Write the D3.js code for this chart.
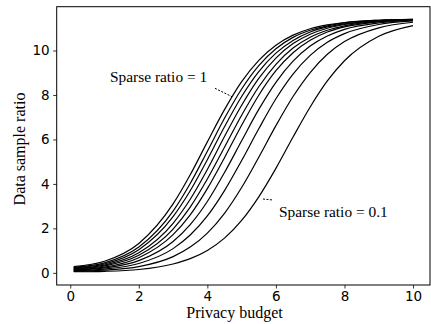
<!DOCTYPE html>
<html>
<head>
<meta charset="utf-8">
<script src="https://cdn.jsdelivr.net/npm/d3@7"></script>
<style>
  body { margin: 0; background: #fff; }
  svg { display: block; }
  .tick text { font-family: "DejaVu Sans", sans-serif; font-size: 13.5px; fill: #000; }
  .label { font-family: "Liberation Serif", "Times New Roman", serif; fill: #000; }
</style>
</head>
<body>
<svg id="chart"></svg>
<script>
// privacy budget values where the curves were read
const budget = [0.1, 1, 2, 3, 3.5, 4, 4.5, 5, 5.5, 6, 6.5, 7, 7.5, 8, 9, 10]

// data sample ratio, one array per sparse ratio
const ratio10 = [0.28, 0.52, 1.32, 3.10, 4.41, 5.89, 7.34, 8.60, 9.56, 10.24, 10.69, 10.98, 11.15, 11.26, 11.36, 11.40]
const ratio09 = [0.25, 0.45, 1.16, 2.78, 4.02, 5.47, 6.95, 8.27, 9.32, 10.08, 10.59, 10.91, 11.11, 11.24, 11.36, 11.40]
const ratio08 = [0.22, 0.40, 1.04, 2.53, 3.69, 5.09, 6.57, 7.93, 9.05, 9.88, 10.45, 10.83, 11.06, 11.20, 11.34, 11.39]
const ratio07 = [0.19, 0.35, 0.90, 2.23, 3.31, 4.65, 6.13, 7.54, 8.75, 9.66, 10.31, 10.73, 11.00, 11.17, 11.33, 11.39]
const ratio06 = [0.17, 0.31, 0.79, 1.97, 2.96, 4.22, 5.65, 7.09, 8.37, 9.38, 10.11, 10.60, 10.91, 11.11, 11.31, 11.38]
const ratio05 = [0.15, 0.26, 0.68, 1.72, 2.61, 3.79, 5.18, 6.64, 7.99, 9.09, 9.90, 10.46, 10.83, 11.06, 11.29, 11.37]
const ratio04 = [0.12, 0.22, 0.55, 1.41, 2.17, 3.21, 4.51, 5.94, 7.35, 8.57, 9.52, 10.20, 10.65, 10.95, 11.24, 11.36]
const ratio03 = [0.10, 0.17, 0.42, 1.09, 1.70, 2.56, 3.70, 5.05, 6.48, 7.83, 8.94, 9.78, 10.37, 10.76, 11.17, 11.33]
const ratio02 = [0.07, 0.12, 0.28, 0.73, 1.16, 1.79, 2.68, 3.84, 5.20, 6.62, 7.93, 9.01, 9.83, 10.40, 11.02, 11.27]
const ratio01 = [0.05, 0.07, 0.15, 0.40, 0.64, 1.01, 1.56, 2.36, 3.42, 4.70, 6.11, 7.46, 8.63, 9.54, 10.64, 11.12]

const allRatios = [ratio10, ratio09, ratio08, ratio07, ratio06, ratio05, ratio04, ratio03, ratio02, ratio01]

const xTicks = [0, 2, 4, 6, 8, 10]
const yTicks = [0, 2, 4, 6, 8, 10]

//set up svg container
const width = 431
const height = 324
const margin = {left: 56.7, right: 430, top: 6.7, bottom: 285}

const svg = d3.select('#chart')
              .attr('width', width)
              .attr('height', height)

//setting the scale (matplotlib style 5% margins)
const xScale = d3.scaleLinear()
                 .domain([-0.395, 10.495])
                 .range([margin.left, margin.right])

const yScale = d3.scaleLinear()
                 .domain([-0.546, 11.97])
                 .range([margin.bottom, margin.top])

//the curves
const line = d3.line()
               .x((d, i) => xScale(budget[i]))
               .y(d => yScale(d))
               .curve(d3.curveMonotoneX)

svg.selectAll('.curve')
   .data(allRatios)
   .join('path')
   .attr('class', 'curve')
   .attr('d', line)
   .attr('fill', 'none')
   .attr('stroke', '#000')
   .attr('stroke-width', 1.2)

//setting the axes
const xAxis = d3.axisBottom(xScale)
                .tickValues(xTicks)
                .tickSizeOuter(0)
                .tickSize(3.5)
                .tickPadding(3)

const yAxis = d3.axisLeft(yScale)
                .tickValues(yTicks)
                .tickSizeOuter(0)
                .tickSize(3.5)
                .tickPadding(3.5)

const gx = svg.append('g').attr('transform', `translate(0, ${margin.bottom})`).call(xAxis)
const gy = svg.append('g').attr('transform', `translate(${margin.left}, 0)`).call(yAxis)
gx.select('.domain').remove()
gy.select('.domain').remove()
svg.selectAll('.tick line').attr('stroke', '#000').attr('stroke-width', 0.8)

//frame
svg.append('rect')
   .attr('x', margin.left).attr('y', margin.top)
   .attr('width', margin.right - margin.left).attr('height', margin.bottom - margin.top)
   .attr('fill', 'none')
   .attr('stroke', '#000')
   .attr('stroke-width', 1)

//axis labels
svg.append('text')
   .attr('class', 'label')
   .attr('x', 234.5).attr('y', 318)
   .attr('text-anchor', 'middle')
   .style('font-size', '16px')
   .text('Privacy budget')

svg.append('text')
   .attr('class', 'label')
   .attr('transform', 'translate(25, 149) rotate(-90)')
   .attr('text-anchor', 'middle')
   .style('font-size', '16px')
   .text('Data sample ratio')

//annotations
svg.append('text')
   .attr('class', 'label')
   .attr('x', 110).attr('y', 81.7)
   .style('font-size', '15.4px')
   .text('Sparse ratio = 1')

svg.append('text')
   .attr('class', 'label')
   .attr('x', 279).attr('y', 216.7)
   .style('font-size', '15.4px')
   .text('Sparse ratio = 0.1')

svg.append('line')
   .attr('x1', 215).attr('y1', 88.3).attr('x2', 232).attr('y2', 96.7)
   .attr('stroke', '#000').attr('stroke-width', 1)
   .attr('stroke-dasharray', '2,1.5')

svg.append('line')
   .attr('x1', 263).attr('y1', 199).attr('x2', 273).attr('y2', 200)
   .attr('stroke', '#000').attr('stroke-width', 1)
   .attr('stroke-dasharray', '2,1.5')
</script>
</body>
</html>
